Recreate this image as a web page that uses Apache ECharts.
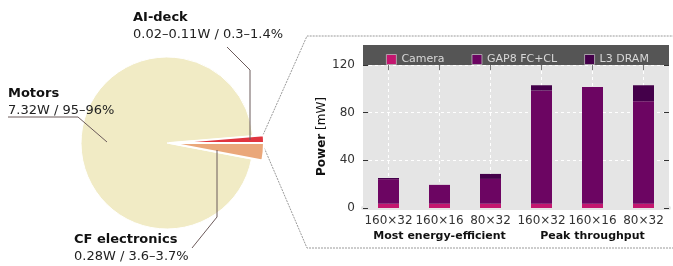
<!DOCTYPE html>
<html>
<head>
<meta charset="utf-8">
<script src="https://cdn.jsdelivr.net/npm/echarts@6/dist/echarts.min.js"></script>
<style>
  html, body { margin: 0; padding: 0; background: #fff; }
  #chart { width: 673px; height: 266px; }
</style>
</head>
<body>
<div id="chart"></div>
<script>
// pie: power breakdown of the drone
const pieNames = ['AI-deck', 'CF electronics', 'Motors'];
const pieDetails = ['0.02–0.11W / 0.3–1.4%', '0.28W / 3.6–3.7%', '7.32W / 95–96%'];
const pieShares = [1.3, 3.0, 95.7];

// bars: power of the AI-deck, per configuration
const barCategories = ['160×32', '160×16', '80×32', '160×32', '160×16', '80×32'];
const groupLabels = ['Most energy-efficient', 'Peak throughput'];
const cameraPower = [3.6, 3.6, 3.6, 3.6, 3.6, 3.6];
const gap8Power = [20.6, 15.8, 20.8, 95.0, 98.0, 86.0];
const dramPower = [1.0, 0.0, 4.2, 4.4, 0.0, 13.4];
const yTicks = [0, 40, 80, 120];

const font = 'DejaVu Sans';
const pieColors = ['#e0353f', '#eaa77a', '#f1ebc5'];

const chart = echarts.init(document.getElementById('chart'));

// label positions and leader lines for the pie annotations
const pieLabelPos = [
    { x: 133, y: 9, line: [[250, 140], [250, 70], [227, 47]] },
    { x: 74, y: 231, line: [[217, 150], [217, 217], [192, 248]] },
    { x: 8, y: 85, line: [[107, 142], [78, 117], [8, 117]] },
];

const pieData = pieNames.map((n, i) => ({ name: n, value: pieShares[i], detail: pieDetails[i] }));

const pieLabel = {
    show: true, position: 'outside', overflow: 'none',
    formatter: p => '{b|' + p.name + '}\n{n|' + p.data.detail + '}',
    rich: {
        b: { fontWeight: 'bold', fontSize: 13, color: '#111', lineHeight: 17, fontFamily: font },
        n: { fontSize: 13, color: '#222', lineHeight: 17, fontFamily: font },
    },
};
const pieLabelLayout = p => {
    const pos = pieLabelPos[p.dataIndex];
    return { x: pos.x, y: pos.y, align: 'left', verticalAlign: 'top' };
};

const leaderLines = pieLabelPos.map(pos => ({
    type: 'polyline', shape: { points: pos.line },
    style: { stroke: '#6b5a5a', lineWidth: 1, fill: null }, z: 20,
}));

const option = {
    animation: false,
    textStyle: { fontFamily: font },
    grid: { left: 363, right: 4, top: 65, bottom: 58, show: true, backgroundColor: '#e5e5e5', borderWidth: 0 },
    legend: {
        data: ['Camera', 'GAP8 FC+CL', 'L3 DRAM'],
        left: 381, top: 49,
        itemWidth: 10, itemHeight: 10, itemGap: 27,
        icon: 'rect',
        itemStyle: { borderColor: '#bbb', borderWidth: 0.8 },
        textStyle: { color: '#d8d8d8', fontSize: 11, fontFamily: font },
        z: 10,
    },
    graphic: [
        { type: 'rect', left: 363, top: 45, shape: { width: 306, height: 20 }, style: { fill: '#555' }, z: 5 },
        { type: 'polyline', shape: { points: [[263, 135], [307, 36], [673, 36]] },
          style: { stroke: '#999', lineWidth: 1, lineDash: [2, 1], fill: null }, z: 1 },
        { type: 'polyline', shape: { points: [[263, 145], [307, 248], [673, 248]] },
          style: { stroke: '#999', lineWidth: 1, lineDash: [2, 1], fill: null }, z: 1 },
    ].concat(leaderLines),
    xAxis: [
        {
            type: 'category', data: barCategories, position: 'bottom',
            axisLine: { show: true, lineStyle: { color: '#e5e5e5', width: 4 } },
            axisTick: { show: false },
            axisLabel: { color: '#333', fontSize: 12, margin: 7, interval: 0 },
            splitLine: { show: true, interval: 0, alignWithLabel: true, lineStyle: { color: '#fff', type: [3, 3], width: 1 } },
        },
        {
            type: 'category', data: groupLabels, position: 'bottom', offset: 16,
            axisLine: { show: false }, axisTick: { show: false },
            axisLabel: { color: '#111', fontSize: 11, fontWeight: 'bold', margin: 7, interval: 0 },
        },
        {
            type: 'category', data: barCategories, position: 'top',
            axisLine: { show: true, lineStyle: { color: 'rgba(0,0,0,0)' } },
            axisTick: { show: true, inside: true, alignWithLabel: true, interval: 0, length: 5, lineStyle: { color: '#777', width: 1 } },
            axisLabel: { show: false },
            z: 8,
        },
    ],
    yAxis: [
        {
            type: 'value', min: 0, max: 120, interval: 40,
            name: '{b|Power} [mW]', nameLocation: 'middle', nameGap: 35, nameRotate: 90,
            nameTextStyle: { color: '#111', fontSize: 12, rich: { b: { fontWeight: 'bold', fontSize: 12, color: '#111' } } },
            axisLine: { show: false },
            axisTick: { show: true, inside: true, length: 5, lineStyle: { color: '#333' } },
            axisLabel: { color: '#333', fontSize: 12, margin: 8,
                formatter: v => (yTicks.includes(v) ? String(v) : '') },
            splitLine: { show: true, lineStyle: { color: '#fff', type: [3, 3], width: 1 } },
        },
        {
            type: 'value', min: 0, max: 120, interval: 40, position: 'right',
            axisLine: { show: false },
            axisTick: { show: true, inside: true, length: 5, lineStyle: { color: '#333' } },
            axisLabel: { show: false }, splitLine: { show: false },
        },
    ],
    series: [
        {
            name: 'Camera', type: 'bar', stack: 'p', barWidth: 21, data: cameraPower,
            itemStyle: { color: '#c4166f' },
        },
        {
            name: 'GAP8 FC+CL', type: 'bar', stack: 'p', barWidth: 21, data: gap8Power,
            itemStyle: { color: '#6c0562' },
        },
        {
            name: 'L3 DRAM', type: 'bar', stack: 'p', barWidth: 21, data: dramPower,
            itemStyle: { color: '#44004a' },
        },
        // motors (base pie)
        {
            type: 'pie', radius: 86, center: [167, 143], startAngle: 4.7, clockwise: true,
            silent: true,
            data: pieData.map((d, i) => ({
                ...d,
                itemStyle: { color: i === 2 ? pieColors[2] : 'rgba(0,0,0,0)' },
                label: { show: i === 2 },
            })),
            itemStyle: { borderColor: '#fff', borderWidth: 1 },
            label: pieLabel,
            labelLine: { show: false },
            labelLayout: pieLabelLayout,
        },
        // exploded slices (AI-deck, CF electronics)
        {
            type: 'pie', radius: 94, center: [170, 143], startAngle: 4.7, clockwise: true,
            silent: true,
            data: pieData.map((d, i) => ({
                ...d,
                itemStyle: { color: i === 2 ? 'rgba(0,0,0,0)' : pieColors[i], borderWidth: i === 2 ? 0 : 2 },
                label: { show: i !== 2 },
            })),
            itemStyle: { borderColor: '#fff' },
            label: pieLabel,
            labelLine: { show: false },
            labelLayout: pieLabelLayout,
        },
    ],
};

chart.setOption(option);
</script>
</body>
</html>
